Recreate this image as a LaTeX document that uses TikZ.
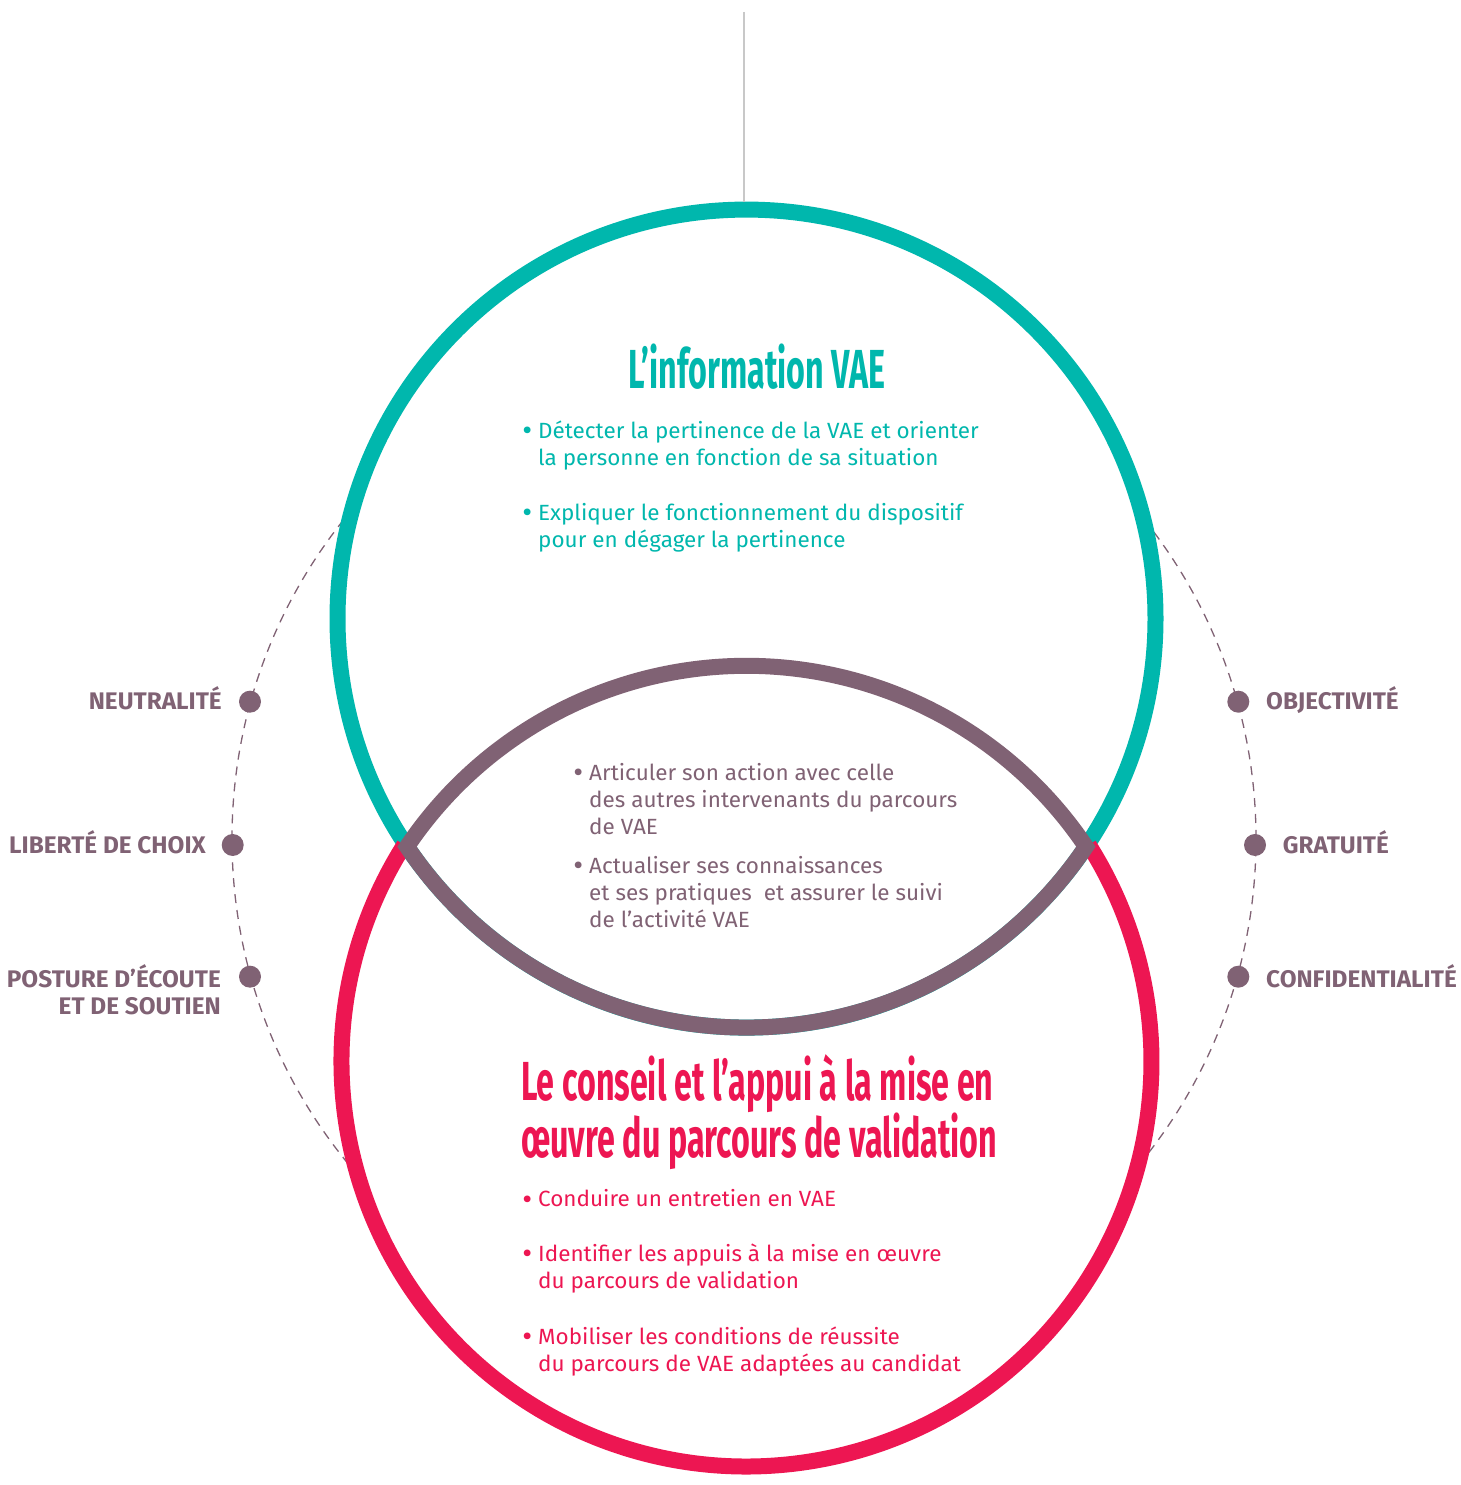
\documentclass[tikz,border=0pt]{standalone}
\usepackage{graphicx}
\usepackage{fontspec}
\setmainfont[FakeStretch=1.022]{Fira Sans}
\newfontfamily\headfont[FakeStretch=0.586]{Fira Sans}
\newfontfamily\tagfont[FakeStretch=1.015]{Fira Sans}

\definecolor{vteal}{RGB}{0,183,173}
\definecolor{vred}{RGB}{237,22,82}
\definecolor{vplum}{RGB}{128,98,116}
\definecolor{vgrey}{RGB}{200,200,200}

% hanging bullet placed left of the item text
\newcommand{\itembul}{\llap{\raisebox{-2.4pt}{\scalebox{1.35}{•}}\hspace{6pt}}}

\begin{document}
\begin{tikzpicture}[x=1pt,y=1pt,
  ring/.style={line width=16pt},
  dotmark/.style={circle, fill=vplum, minimum size=22pt, inner sep=0pt},
  tag/.style={font=\tagfont\bfseries\fontsize{24}{27}\selectfont, text=vplum, inner sep=0pt},
  bodytext/.style={font=\fontsize{22}{27.4}\selectfont, align=left, inner sep=0pt, anchor=base west},
  headtext/.style={font=\headfont\bfseries\fontsize{55}{56}\selectfont, inner sep=0pt}]
\useasboundingbox (0,0) rectangle (1460,1485);

% centres of the rings and of the dashed orbit
\coordinate (ct) at (746.5,866.4);
\coordinate (cr) at (746.5,423.5);
\coordinate (cu) at (746.5,410.2);
\coordinate (cd) at (744,646);
\coordinate (lensL) at (407,638.3);
\coordinate (top) at (744,1473);

% dashed orbit, hidden inside the two large rings
\draw[vplum, line width=1.3pt, dash pattern=on 9pt off 7pt] (cd) circle[radius=512pt];
\fill[white] (ct) circle[radius=409pt];
\fill[white] (cr) circle[radius=405pt];

% information ring
\node[circle, draw=vteal, line width=16pt, minimum size=818pt, inner sep=0pt] (info) at (ct) {};
\draw[vgrey, line width=1.5pt] (top) -- (top |- info.north);

% advice ring (lower arc only, the upper part lies under the lens)
\draw[vred, ring] ([shift={(147.68:405pt)}]cr) arc[start angle=147.68, end angle=392.32, radius=405pt];

% common lens
\draw[vplum, ring, line join=miter] (lensL)
  arc[start angle=213.9, end angle=326.1, radius=409pt]
  arc[start angle=33.9, end angle=146.1, radius=409pt] -- cycle;

% orbit markers
\node[dotmark] (dN) at (250,783.3) {};
\node[dotmark] (dL) at (232.7,640) {};
\node[dotmark] (dP) at (250,508.3) {};
\node[dotmark] (dO) at (1238.3,783.3) {};
\node[dotmark] (dG) at (1255,640) {};
\node[dotmark] (dC) at (1238.3,508.3) {};

% marker labels (multi-line nodes sit on the baseline of their last line)
\node[tag, anchor=base east] (tN) at (222,775) {NEUTRALITÉ};
\node[tag, anchor=base east] (tL) at (206,631.7) {LIBERTÉ DE CHOIX};
\node[tag, anchor=base east, align=right] (tP) at (221,470) {POSTURE D’ÉCOUTE\\ET DE SOUTIEN};
\node[tag, anchor=base west] (tO) at (1266,775) {OBJECTIVITÉ};
\node[tag, anchor=base west] (tG) at (1282.7,631.7) {GRATUITÉ};
\node[tag, anchor=base west] (tC) at (1266,497.3) {CONFIDENTIALITÉ};

% information
\node[headtext, text=vteal, anchor=base] (hInfo) at (757,1096) {L’information VAE};
\node[bodytext, text=vteal] (i1) at (538,1019.5) {\itembul Détecter la pertinence de la VAE et orienter\\la personne en fonction de sa situation};
\node[bodytext, text=vteal] (i2) at (538,937.5) {\itembul Expliquer le fonctionnement du dispositif\\pour en dégager la pertinence};

% shared
\node[bodytext, text=vplum] (s1) at (589,650) {\itembul Articuler son action avec celle\\des autres intervenants du parcours\\de VAE};
\node[bodytext, text=vplum] (s2) at (589,557) {\itembul Actualiser ses connaissances\\et ses pratiques\ \ et assurer le suivi\\de l’activité VAE};

% advice
\node[headtext, text=vred, align=left, anchor=base west] (hAdv) at (521,327) {Le conseil et l’appui à la mise en\\œuvre du parcours de validation};
\node[bodytext, text=vred] (a1) at (538,278.3) {\itembul Conduire un entretien en VAE};
\node[bodytext, text=vred] (a2) at (538,196) {\itembul Identifier les appuis à la mise en œuvre\\du parcours de validation};
\node[bodytext, text=vred] (a3) at (538,113.3) {\itembul Mobiliser les conditions de réussite\\du parcours de VAE adaptées au candidat};
\end{tikzpicture}
\end{document}
